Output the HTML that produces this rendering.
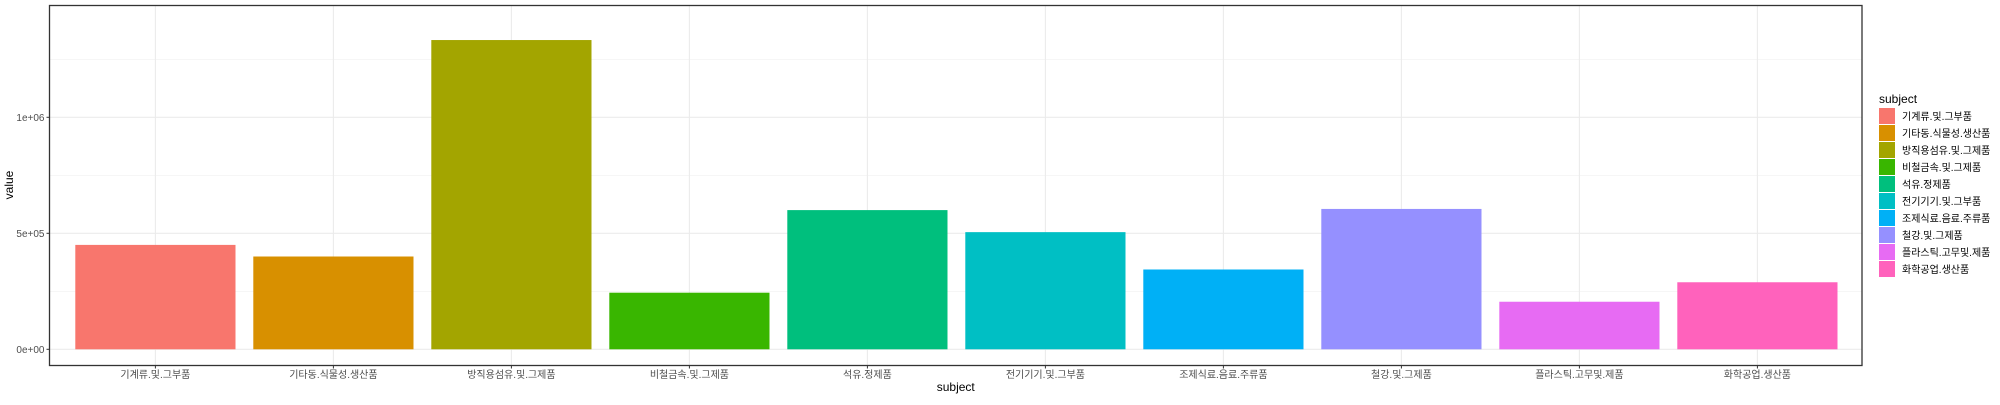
<!DOCTYPE html>
<html><head><meta charset="utf-8"><style>
body{margin:0;background:#fff;}
svg text{font-family:"Liberation Sans","Noto Sans CJK KR",sans-serif;}
</style></head><body>
<svg id="chart" width="2000" height="400" xmlns="http://www.w3.org/2000/svg">
<g id="grid"></g><g id="bars"></g><g id="axes"></g><g id="legend"></g>
</svg>
<script>
const categories=["기계류.및.그부품","기타동.식물성.생산품","방직용섬유.및.그제품","비철금속.및.그제품","석유.정제품","전기기기.및.그부품","조제식료.음료.주류품","철강.및.그제품","플라스틱.고무및.제품","화학공업.생산품"];
const values=[450000,400000,1333000,244000,600000,505000,344000,605000,205000,289000];
const colors=["#F8766D","#D89000","#A3A500","#39B600","#00BF7D","#00BFC4","#00B0F6","#9590FF","#E76BF3","#FF62BC"];
const yTicks=[0,500000,1000000];
const yTickLabels=["0e+00","5e+05","1e+06"];
const yMinor=[250000,750000,1250000];
const NS="http://www.w3.org/2000/svg";
const L=49.5,R=1862,T=5.5,B=365.5;
const x0=155.4,dx=178.0;
function xs(i){return x0+i*dx;}
function ys(v){return 349.3-v*(116/500000);}
function mk(p,t,a){const e=document.createElementNS(NS,t);for(const k in a)e.setAttribute(k,a[k]);p.appendChild(e);return e;}
const grid=document.getElementById('grid'),bars=document.getElementById('bars'),axes=document.getElementById('axes'),leg=document.getElementById('legend');
mk(grid,'rect',{x:L,y:T,width:R-L,height:B-T,fill:'#fff'});
yMinor.forEach(v=>{const l=mk(grid,'line',{x1:L,x2:R,y1:ys(v),y2:ys(v),stroke:'#f0f0f0','stroke-width':0.7});

});
yTicks.forEach(v=>{const l=mk(grid,'line',{x1:L,x2:R,y1:ys(v),y2:ys(v),stroke:'#ebebeb','stroke-width':1.1});

});
categories.forEach((c,i)=>{const l=mk(grid,'line',{x1:xs(i),x2:xs(i),y1:T,y2:B,stroke:'#ebebeb','stroke-width':1.1});

});
const bw=dx*0.9;
values.forEach((v,i)=>{const r=mk(bars,'rect',{x:xs(i)-bw/2,y:ys(v),width:bw,height:ys(0)-ys(v),fill:colors[i]});

});
const fr=mk(axes,'rect',{x:L,y:T,width:R-L,height:B-T,fill:'none',stroke:'#333','stroke-width':1.3});


yTicks.forEach((v,i)=>{mk(axes,'line',{x1:L-3,x2:L,y1:ys(v),y2:ys(v),stroke:'#333'});
const t=mk(axes,'text',{x:L-5,y:ys(v)+3.5,'text-anchor':'end','font-size':10,fill:'#4d4d4d'});t.textContent=yTickLabels[i];

});
categories.forEach((c,i)=>{mk(axes,'line',{x1:xs(i),x2:xs(i),y1:B,y2:B+3,stroke:'#333'});
const t=mk(axes,'text',{x:xs(i),y:378,'text-anchor':'middle','font-size':10,fill:'#4d4d4d'});t.textContent=c;

});
const xt=mk(axes,'text',{x:(L+R)/2,y:391,'text-anchor':'middle','font-size':12,fill:'#000'});xt.textContent='subject';


const yt=mk(axes,'text',{x:0,y:0,'text-anchor':'middle','font-size':12,fill:'#000',transform:'translate(13,185) rotate(-90)'});yt.textContent='value';


const lt=mk(leg,'text',{x:1879,y:103,'font-size':12,fill:'#000'});lt.textContent='subject';


categories.forEach((c,i)=>{const y=108+i*17;
const k=mk(leg,'rect',{x:1879,y:y,width:16,height:16,fill:colors[i]});


const t=mk(leg,'text',{x:1902,y:y+12,'font-size':10,fill:'#000'});t.textContent=c;

});
</script>
</body></html>
